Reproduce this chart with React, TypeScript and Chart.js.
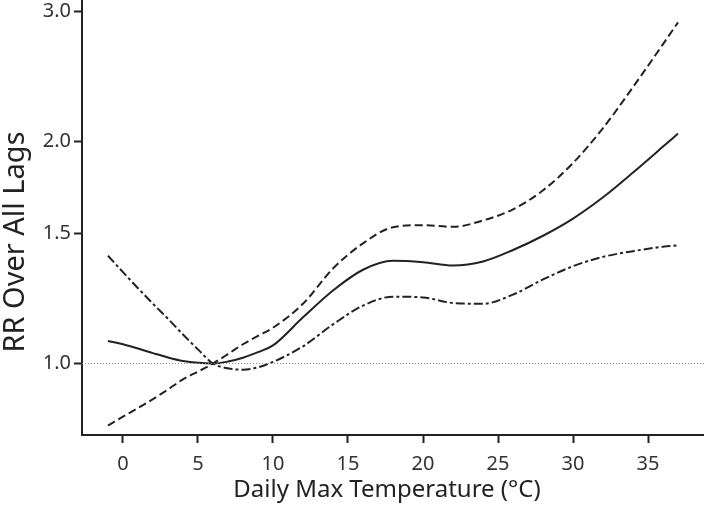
import React, { useEffect, useRef } from "react";
import { Chart, registerables } from "chart.js";

Chart.register(...registerables);

// Daily max temperature (°C) grid
const temps = [-1, 0, 1, 2, 3, 4, 5, 6, 7, 8, 9, 10, 12, 14, 16, 18, 20, 22, 24, 26, 28, 30, 32, 34, 36, 37];
// Overall cumulative RR (solid)
const rrOverall = [1.073, 1.062, 1.048, 1.033, 1.019, 1.008, 1.002, 1.0, 1.006, 1.018, 1.036, 1.058, 1.155, 1.256, 1.34, 1.378, 1.372, 1.358, 1.375, 1.425, 1.49, 1.572, 1.68, 1.815, 1.968, 2.05];
// Confidence bound high on the left, low on the right (dash-dot)
const boundA = [1.4, 1.33, 1.265, 1.205, 1.15, 1.095, 1.045, 1.0, 0.985, 0.981, 0.988, 1.005, 1.055, 1.13, 1.198, 1.232, 1.229, 1.208, 1.205, 1.24, 1.3, 1.355, 1.395, 1.42, 1.44, 1.446];
// Confidence bound low on the left, high on the right (dashed)
const boundB = [0.824, 0.847, 0.87, 0.895, 0.922, 0.952, 0.975, 1.0, 1.03, 1.062, 1.09, 1.118, 1.205, 1.345, 1.455, 1.53, 1.54, 1.532, 1.563, 1.618, 1.717, 1.87, 2.085, 2.37, 2.71, 2.9];

const xTicks = [0, 5, 10, 15, 20, 25, 30, 35];
const yTicks = [1.0, 1.5, 2.0, 3.0];
const refRR = 1.0;
const xMin = -2.73;
const xMax = 38.73;
const yMin = 0.8;
const yMax = 3.11;

const xTitle = "Daily Max Temperature (°C)";
const yTitle = "RR Over All Lags";

const FONT = "'Noto Sans', sans-serif";
const INK = "#222";

function pts(ys: number[]) {
  return temps.map((t, i) => ({ x: t, y: ys[i] }));
}

const titlePlugin = {
  id: "axisTitles",
  afterDraw(chart: any) {
    const ctx = chart.ctx;
    ctx.save();
    ctx.fillStyle = "#222";
    ctx.textAlign = "center";
    ctx.textBaseline = "middle";
    ctx.font = `24px ${FONT}`;
    ctx.fillText(xTitle, 387, 490);
    ctx.translate(16, 242);
    ctx.rotate(-Math.PI / 2);
    ctx.font = `29px ${FONT}`;
    ctx.fillText(yTitle, 0, 0);
    ctx.restore();
  },
};

export default function App() {
  const ref = useRef<HTMLCanvasElement | null>(null);
  useEffect(() => {
    if (!ref.current) return;
    const chart = new Chart(ref.current, {
      type: "line",
      data: {
        datasets: [
          {
            data: [
              { x: xMin, y: refRR },
              { x: xMax, y: refRR },
            ],
            borderColor: "#888",
            borderWidth: 1,
            borderDash: [1, 2],
            pointRadius: 0,
          },
          {
            data: pts(boundA),
            borderColor: INK,
            borderWidth: 2,
            borderDash: [9, 3, 3, 3],
            pointRadius: 0,
            cubicInterpolationMode: "monotone",
          },
          {
            data: pts(boundB),
            borderColor: INK,
            borderWidth: 2,
            borderDash: [8, 4],
            pointRadius: 0,
            cubicInterpolationMode: "monotone",
          },
          {
            data: pts(rrOverall),
            borderColor: INK,
            borderWidth: 2,
            pointRadius: 0,
            cubicInterpolationMode: "monotone",
          },
        ],
      },
      options: {
        animation: false,
        responsive: true,
        maintainAspectRatio: false,
        layout: { padding: 0 },
        plugins: { legend: { display: false }, tooltip: { enabled: false } },
        scales: {
          x: {
            type: "linear",
            min: xMin,
            max: xMax,
            afterBuildTicks: (axis: any) => {
              axis.ticks = xTicks.map((v) => ({ value: v }));
            },
            afterFit: (axis: any) => {
              axis.height = 71;
              axis.paddingLeft = 0;
              axis.paddingRight = 0;
            },
            grid: {
              display: true,
              drawOnChartArea: false,
              drawTicks: true,
              tickLength: 8,
              tickWidth: 2,
              tickColor: INK,
            },
            border: { display: true, color: INK, width: 2 },
            ticks: {
              color: "#333",
              padding: 9,
              font: { family: FONT, size: 20 },
              maxRotation: 0,
              callback: (v: any) => String(v),
            },
          },
          y: {
            type: "logarithmic",
            min: yMin,
            max: yMax,
            afterBuildTicks: (axis: any) => {
              axis.ticks = yTicks.map((v) => ({ value: v }));
            },
            afterFit: (axis: any) => {
              axis.width = 82;
              axis.paddingTop = 0;
              axis.paddingBottom = 0;
            },
            grid: {
              display: true,
              drawOnChartArea: false,
              drawTicks: true,
              tickLength: 8,
              tickWidth: 2,
              tickColor: INK,
            },
            border: { display: true, color: INK, width: 2 },
            ticks: {
              color: "#333",
              padding: 3,
              font: { family: FONT, size: 20 },
              callback: (v: any) => Number(v).toFixed(1),
            },
          },
        },
      },
      plugins: [titlePlugin],
    } as any);
    return () => chart.destroy();
  }, []);
  return (
    <div style={{ position: "fixed", left: 0, top: 0, width: 704, height: 506, background: "#fff" }}>
      <canvas ref={ref} />
    </div>
  );
}
